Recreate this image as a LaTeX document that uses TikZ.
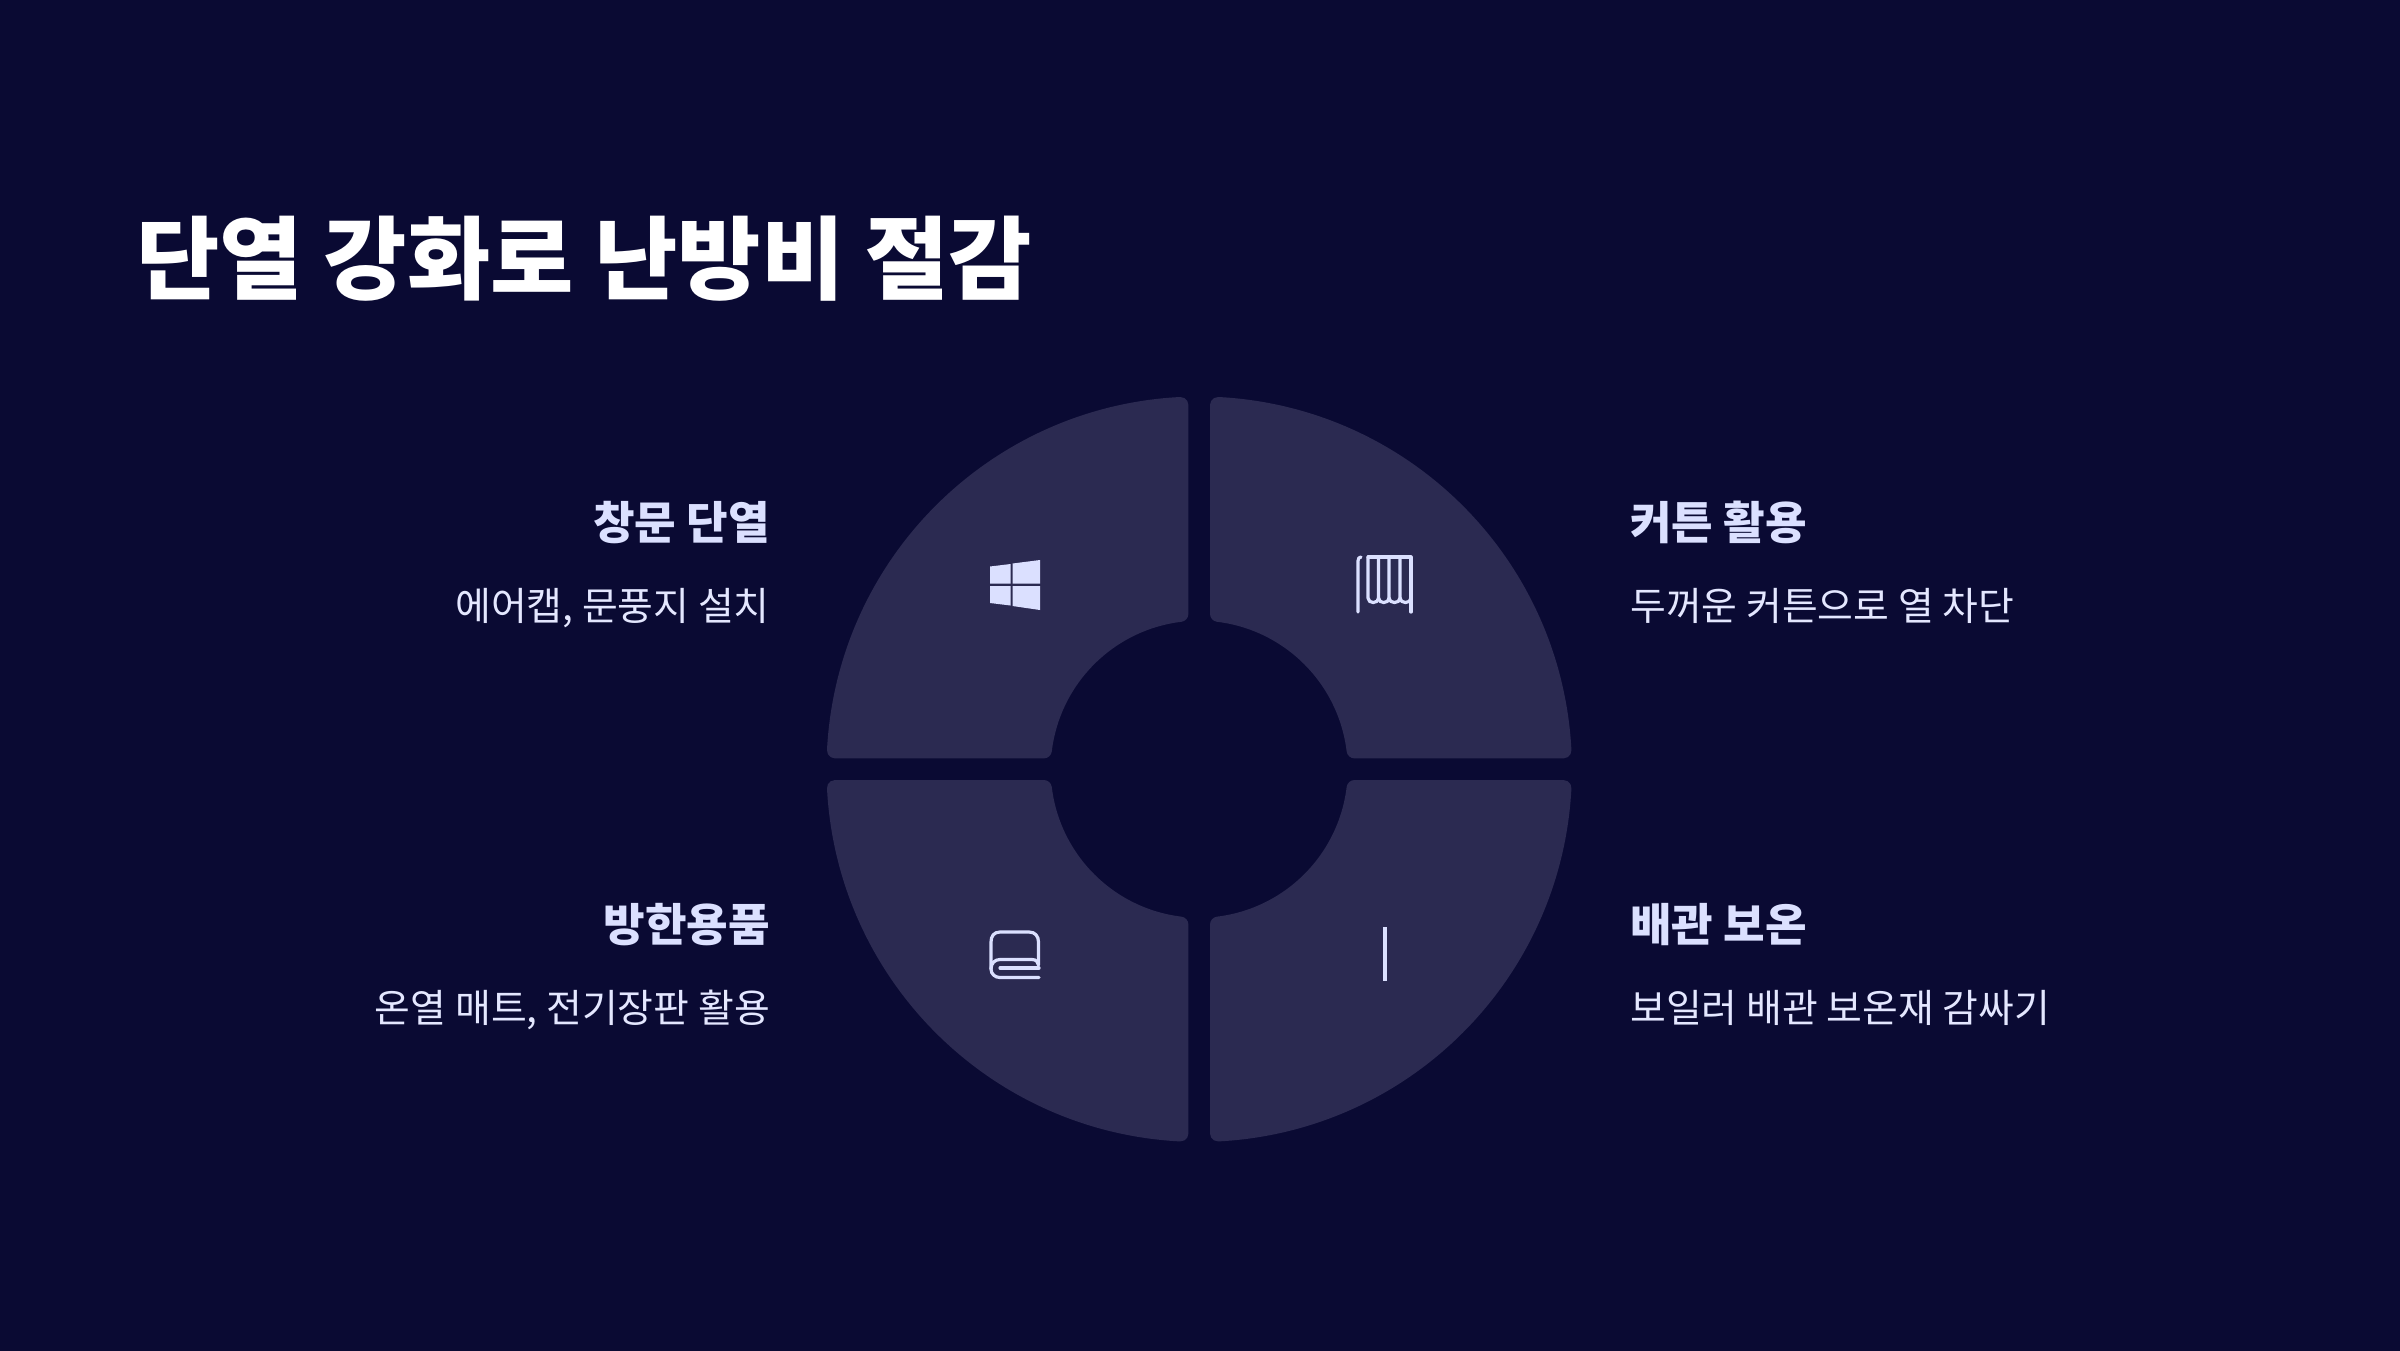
\documentclass[tikz,border=0pt]{standalone}
\usepackage{fontspec}
\setmainfont{Noto Sans CJK KR}
\definecolor{bgc}{HTML}{0A0A33}
\definecolor{secc}{HTML}{2B2A51}
\definecolor{headc}{HTML}{DBE0FF}
\definecolor{subc}{HTML}{E4E7FF}
\definecolor{iconc}{HTML}{DBE0FF}
\pgfmathsetmacro{\gp}{10.8}
\pgfmathsetmacro{\cr}{8}
\pgfmathsetmacro{\ro}{372.7}
\pgfmathsetmacro{\ri}{148.5}
\pgfmathsetmacro{\yo}{10*sqrt(((\ro-\cr)/10)^2-((\gp+\cr)/10)^2)}
\pgfmathsetmacro{\yi}{10*sqrt(((\ri+\cr)/10)^2-((\gp+\cr)/10)^2)}
\pgfmathsetmacro{\ao}{atan2(\yo,\gp+\cr)}
\pgfmathsetmacro{\ai}{atan2(\gp+\cr,\yi)}
\pgfmathsetmacro{\aob}{90-\ao}
\pgfmathsetmacro{\aib}{90-\ai}
\tikzset{
  px/.style={x=1pt,y=-1pt},
  title/.style={anchor=base west,inner sep=0,text=white,font=\bfseries\fontsize{90.6}{100}\selectfont},
  headl/.style={inner sep=0,text=headc,font=\bfseries\fontsize{45.2}{50}\selectfont},
  subl/.style={inner sep=0,text=subc,font=\fontsize{38.9}{46}\selectfont},
  iconl/.style={draw=iconc,line width=3.2pt,line cap=round,line join=round},
}
\newcommand{\sectorshape}[2]{%
  \begin{scope}[shift={(1199.2pt,-769.2pt)},xscale=#1,yscale=#2,x=1pt,y=1pt]
  \fill[secc] (\gp,\yi) -- (\gp,\yo)
    arc[start angle=180,end angle=\ao,radius=\cr]
    arc[start angle=\ao,end angle=\aob,radius=\ro]
    arc[start angle=\aob,end angle=-90,radius=\cr]
    -- (\yi,\gp)
    arc[start angle=-90,end angle=\ai-180,radius=\cr]
    arc[start angle=\ai,end angle=\aib,radius=\ri]
    arc[start angle=270-\ai,end angle=180,radius=\cr]
    -- cycle;
  \end{scope}}
\begin{document}
\begin{tikzpicture}[px]
\useasboundingbox (0,0) rectangle (2400,1350);
\fill[bgc] (-5,-5) rectangle (2405,1355);
\sectorshape{-1}{1}
\sectorshape{1}{1}
\sectorshape{-1}{-1}
\sectorshape{1}{-1}
\node[title] (ttl) at (136,292) {단열 강화로 난방비 절감};
\node[headl,anchor=base east] (h1) at (770,539) {창문 단열};
\node[subl,anchor=base east] (s1) at (770,620) {에어캡, 문풍지 설치};
\node[headl,anchor=base west] (h2) at (1630,539) {커튼 활용};
\node[subl,anchor=base west] (s2) at (1630,620) {두꺼운 커튼으로 열 차단};
\node[headl,anchor=base east] (h3) at (770,941) {방한용품};
\node[subl,anchor=base east] (s3) at (770,1022) {온열 매트, 전기장판 활용};
\node[headl,anchor=base west] (h4) at (1630,941) {배관 보온};
\node[subl,anchor=base west] (s4) at (1630,1022) {보일러 배관 보온재 감싸기};
% windows
\fill[iconc] (990,566.5) -- (1010.5,564) -- (1010.5,583.5) -- (990,583.5) -- cycle;
\fill[iconc] (1012.5,563.5) -- (1040,560) -- (1040,583.5) -- (1012.5,583.5) -- cycle;
\fill[iconc] (990,586) -- (1010.5,586) -- (1010.5,605.5) -- (990,603) -- cycle;
\fill[iconc] (1012.5,586) -- (1040,586) -- (1040,610) -- (1012.5,606) -- cycle;
% curtain
\draw[iconl] (1358,612) -- (1358,561) .. controls (1358,558.5) and (1359,557) .. (1361,557);
\draw[iconl] (1368,557) -- (1411,557) -- (1411,612);
\draw[iconl] (1368,557) -- (1368,598) .. controls (1368,604) and (1378.5,604) .. (1378.5,598) -- (1378.5,557);
\draw[iconl] (1378.5,598) .. controls (1378.5,604) and (1389,604) .. (1389,598) -- (1389,557);
\draw[iconl] (1389,598) .. controls (1389,604) and (1400,604) .. (1400,598) -- (1400,557);
\draw[iconl] (1400,598) .. controls (1400,604) and (1411,604) .. (1411,598);
% book
\draw[iconl] (1038.5,965) -- (1038.5,942) .. controls (1038.5,936) and (1035,932) .. (1029,932) -- (1000,932) .. controls (994,932) and (991,936) .. (991,942) -- (991,969) .. controls (991,974) and (995,977.5) .. (1000,977.5) -- (1039,977.5);
\draw[iconl] (991,969) .. controls (991,963) and (995,959.5) .. (1000,959.5) -- (1032,959.5) .. controls (1036,959.5) and (1038.5,962) .. (1038.5,965);
\draw[iconl] (1000,968) -- (1039,968);
% pipe
\draw[iconl,line cap=butt] (1385,927) -- (1385,981);
\end{tikzpicture}
\end{document}
